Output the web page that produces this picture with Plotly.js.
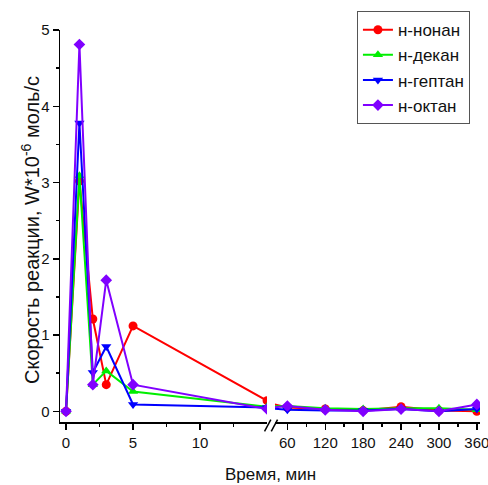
<!DOCTYPE html>
<html><head><meta charset="utf-8">
<script src="https://cdn.plot.ly/plotly-3.0.1.min.js"></script>
<style>body{margin:0;background:#fff}#c{width:488px;height:485px}</style>
</head><body><div id="c"></div>
<script>
const time = [0, 1, 2, 3, 5, 15, 60, 120, 180, 240, 300, 360];
const nonan  = [0, 3.02, 1.21, 0.35, 1.12, 0.14, 0.05, 0.03, 0.01, 0.06, 0.01, 0.0];
const dekan  = [0, 3.09, 0.35, 0.53, 0.26, 0.06, 0.07, 0.04, 0.03, 0.04, 0.04, 0.02];
const geptan = [0, 3.78, 0.51, 0.85, 0.09, 0.05, 0.02, 0.01, 0.01, 0.03, 0.0, 0.03];
const oktan  = [0, 4.81, 0.35, 1.72, 0.35, 0.03, 0.07, 0.02, 0.0, 0.03, 0.0, 0.09];
const names = ['н-нонан', 'н-декан', 'н-гептан', 'н-октан'];

const series = [
  {y: nonan,  color: '#ff0000', symbol: 'circle', size: 9},
  {y: dekan,  color: '#00ee00', symbol: 'triangle-up', size: 9},
  {y: geptan, color: '#0000ff', symbol: 'triangle-down', size: 9},
  {y: oktan,  color: '#8000ff', symbol: 'diamond', size: 9}
];
const traces = [];
series.forEach((s, i) => {
  ['x', 'x2'].forEach((ax, j) => {
    traces.push({
      x: time, y: s.y, xaxis: ax, yaxis: 'y',
      type: 'scatter', mode: 'lines+markers',
      name: names[i], showlegend: j === 0, legendgroup: names[i],
      line: {color: s.color, width: 2},
      marker: {color: s.color, symbol: s.symbol, size: s.size},
      cliponaxis: true
    });
  });
});

const tickFont = {family: 'Liberation Sans, Arial, sans-serif', size: 15, color: '#111'};
const axBase = {
  showgrid: false, zeroline: false, showline: true, linecolor: '#000', linewidth: 1.5,
  ticks: 'outside', ticklen: 6, tickwidth: 1.5, tickcolor: '#000', tickfont: tickFont,
  ticklabeloverflow: 'allow'
};
const layout = {
  width: 488, height: 485,
  margin: {l: 60, r: 8, t: 30, b: 63},
  paper_bgcolor: '#fff', plot_bgcolor: '#fff',
  font: {family: 'Liberation Sans, Arial, sans-serif', color: '#111'},
  xaxis: Object.assign({}, axBase, {
    domain: [0, 0.493], range: [-0.45, 15], tickvals: [0, 5, 10],
    minor: {tickvals: [2.5, 7.5, 12.5], ticklen: 3, tickwidth: 1.5, tickcolor: '#000', ticks: 'outside'},
    anchor: 'y'
  }),
  xaxis2: Object.assign({}, axBase, {
    domain: [0.512, 1], range: [40.5, 365], tickvals: [60, 120, 180, 240, 300, 360],
    minor: {tickvals: [90, 150, 210, 270, 330], ticklen: 3, tickwidth: 1.5, tickcolor: '#000', ticks: 'outside'},
    anchor: 'y'
  }),
  yaxis: Object.assign({}, axBase, {
    range: [-0.14, 5], tickvals: [0, 1, 2, 3, 4, 5],
    minor: {tickvals: [0.5, 1.5, 2.5, 3.5, 4.5], ticklen: 3, tickwidth: 1.5, tickcolor: '#000', ticks: 'outside'}
  }),
  legend: {
    x: 0.707, y: 1.048, xanchor: 'left', yanchor: 'top',
    bordercolor: '#555', borderwidth: 1, bgcolor: '#fff',
    font: {size: 17, color: '#111'}, tracegroupgap: 0
  },
  annotations: [{
    text: 'Время, мин', xref: 'paper', yref: 'paper', x: 0.5, y: -0.105,
    xanchor: 'center', yanchor: 'top', showarrow: false, font: {size: 17, color: '#111'}
  }, {
    text: 'Скорость реакции, W*10<sup>-6</sup> моль/с', xref: 'paper', yref: 'paper',
    x: -0.069, y: 0.49, xanchor: 'center', yanchor: 'middle', textangle: -90,
    showarrow: false, font: {size: 20, color: '#111'}
  }],
  shapes: [
    {type: 'line', xref: 'paper', yref: 'paper', x0: 0.487, x1: 0.502, y0: -0.024, y1: 0.006, line: {color: '#000', width: 1.5}},
    {type: 'line', xref: 'paper', yref: 'paper', x0: 0.503, x1: 0.518, y0: -0.024, y1: 0.006, line: {color: '#000', width: 1.5}}
  ]
};
Plotly.newPlot('c', traces, layout, {displayModeBar: false, staticPlot: true});
</script></body></html>
